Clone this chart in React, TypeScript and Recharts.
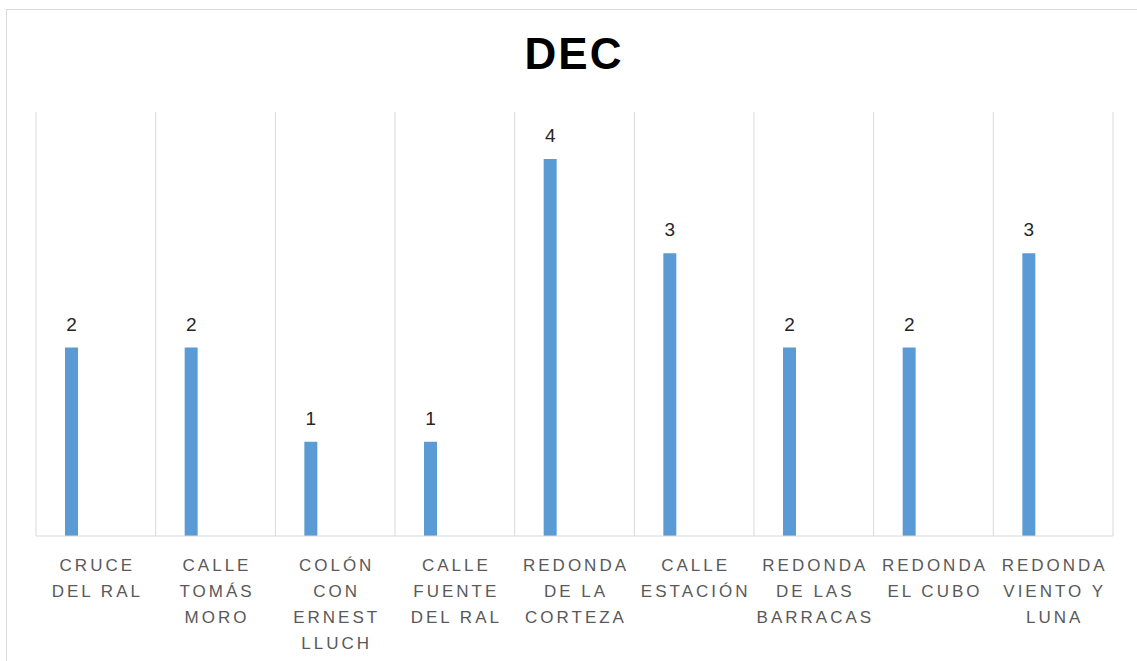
import { BarChart, Bar, XAxis, YAxis, CartesianGrid, LabelList } from 'recharts';

// category names, line breaks as the chart wraps them
const categories = [
  'CRUCE\nDEL RAL',
  'CALLE\nTOMÁS\nMORO',
  'COLÓN\nCON\nERNEST\nLLUCH',
  'CALLE\nFUENTE\nDEL RAL',
  'REDONDA\nDE LA\nCORTEZA',
  'CALLE\nESTACIÓN',
  'REDONDA\nDE LAS\nBARRACAS',
  'REDONDA\nEL CUBO',
  'REDONDA\nVIENTO Y\nLUNA',
];
const decValues = [2, 2, 1, 1, 4, 3, 2, 2, 3];
// empty second series, it only takes room next to the DEC bars
const emptyValues: (number | null)[] = [null, null, null, null, null, null, null, null, null];

const data = categories.map((name, i) => ({
  name,
  dec: decValues[i],
  empty: emptyValues[i],
}));

const FONT = "'Liberation Sans', Arial, sans-serif";

// gridlines on the borders between categories, taken from the axis band
const categoryBorders = ({ xAxis, offset }: any) => {
  const scale = xAxis?.scale;
  const project =
    typeof scale === 'function'
      ? scale
      : scale && typeof scale.map === 'function'
      ? (v: string) => scale.map(v)
      : null;
  if (project && typeof scale.bandwidth === 'function') {
    const starts = categories.map((c) => project(c));
    if (starts.every((s) => typeof s === 'number' && !isNaN(s))) {
      return [...starts, starts[starts.length - 1] + scale.bandwidth()];
    }
  }
  const step = offset.width / categories.length;
  return [...categories.map((_, i) => offset.left + i * step), offset.left + offset.width];
};

const CategoryTick = (props: any) => {
  const { x, y, payload } = props;
  const lines: string[] = String(payload.value).split('\n');
  return (
    <text
      x={x}
      y={y}
      textAnchor="middle"
      fill="#595959"
      fontSize={17}
      fontFamily={FONT}
      style={{ letterSpacing: 3 }}
    >
      {lines.map((line, i) => (
        <tspan key={i} x={x + 1.5} y={y + 35 + i * 26}>
          {line}
        </tspan>
      ))}
    </text>
  );
};

export default function App() {
  return (
    <div
      style={{
        position: 'fixed',
        left: 0,
        top: 0,
        width: 1137,
        height: 661,
        overflow: 'hidden',
        background: '#fff',
      }}
    >
      <div
        style={{
          position: 'absolute',
          left: 6,
          top: 9,
          width: 1140,
          height: 660,
          border: '1px solid #d9d9d9',
          boxSizing: 'border-box',
        }}
      />
      <svg
        width={1137}
        height={100}
        style={{ position: 'absolute', left: 0, top: 0 }}
      >
        <text
          x={574}
          y={69}
          textAnchor="middle"
          fontSize={44}
          fontWeight="bold"
          fontFamily={FONT}
          fill="#000"
          style={{ letterSpacing: 2 }}
        >
          DEC
        </text>
      </svg>
      <div style={{ position: 'absolute', left: 0, top: 0 }}>
        <BarChart
          width={1137}
          height={661}
          data={data}
          margin={{ top: 112, right: 24, bottom: 0, left: 36 }}
          barGap={0}
        >
          <CartesianGrid
            vertical
            horizontal={false}
            stroke="#d9d9d9"
            verticalCoordinatesGenerator={categoryBorders}
          />
          <XAxis
            dataKey="name"
            interval={0}
            height={125}
            tickLine={false}
            tickSize={0}
            tickMargin={0}
            axisLine={{ stroke: '#d9d9d9' }}
            tick={<CategoryTick />}
          />
          <YAxis hide domain={[0, 4.5]} />
          <Bar dataKey="dec" fill="#5b9bd5" barSize={13} isAnimationActive={false}>
            <LabelList
              dataKey="dec"
              position="top"
              offset={17}
              fill="#262626"
              fontSize={19}
              fontFamily={FONT}
            />
          </Bar>
          <Bar dataKey="empty" fill="#ed7d31" barSize={48} isAnimationActive={false} />
        </BarChart>
      </div>
    </div>
  );
}
